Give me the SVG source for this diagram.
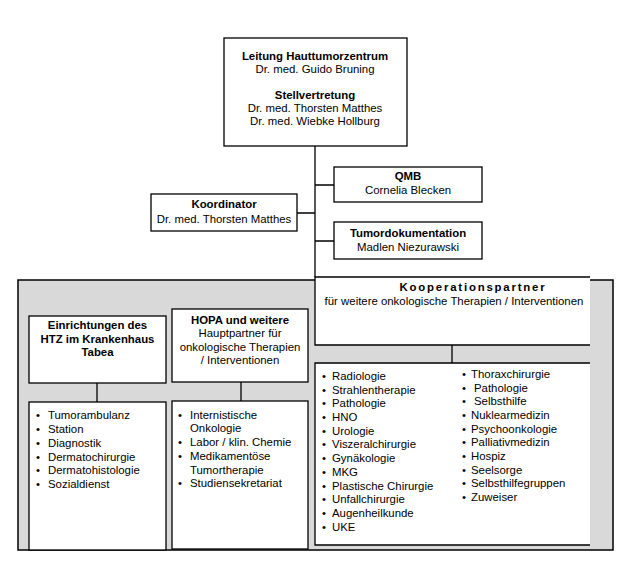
<svg xmlns="http://www.w3.org/2000/svg" width="628" height="571" viewBox="0 0 628 571">
<style>
text{font-family:"Liberation Sans",Arial,sans-serif;font-size:11.4px;fill:#000}
.b{font-weight:bold}
.c{text-anchor:middle}
.box{fill:#fff;stroke:#000;stroke-width:1.3}
.open{fill:none;stroke:#000;stroke-width:1.3}
.wf{fill:#fff;stroke:none}
.ln{stroke:#000;stroke-width:1.3;fill:none}
</style>
<rect width="628" height="571" fill="#fff"/>
<g id="background">
<rect x="18" y="280" width="595" height="270" fill="#d9d9d9" stroke="#000" stroke-width="1.5"/>
</g>
<g id="connectors">
<path class="ln" d="M315,146V277M315,185H334M297,213H315M315,241H334M452,345V363M97,383V402M241,382V401"/>
</g>
<g id="leitung">
<rect class="box" x="224" y="38" width="183" height="108"/>
<text class="b c" x="315" y="60">Leitung Hauttumorzentrum</text>
<text class="c" x="315" y="73">Dr. med. Guido Bruning</text>
<text class="b c" x="315" y="99">Stellvertretung</text>
<text class="c" x="315" y="112">Dr. med. Thorsten Matthes</text>
<text class="c" x="315" y="125">Dr. med. Wiebke Hollburg</text>
</g>
<g id="qmb">
<rect class="box" x="334" y="167" width="148" height="35"/>
<text class="b c" x="408" y="180">QMB</text>
<text class="c" x="408" y="194">Cornelia Blecken</text>
</g>
<g id="koordinator">
<rect class="box" x="151" y="194" width="146" height="37"/>
<text class="b c" x="224" y="208">Koordinator</text>
<text class="c" x="224" y="223">Dr. med. Thorsten Matthes</text>
</g>
<g id="tumordokumentation">
<rect class="box" x="334" y="222" width="148" height="37"/>
<text class="b c" x="408" y="237">Tumordokumentation</text>
<text class="c" x="408" y="251">Madlen Niezurawski</text>
</g>
<g id="kooperationspartner">
<rect class="wf" x="315" y="277" width="275" height="68"/>
<path class="open" d="M590,277H315V345H590"/>
<text class="b c" x="473" y="291" letter-spacing="1.8">Kooperationspartner</text>
<text class="c" x="454" y="305">für weitere onkologische Therapien / Interventionen</text>
</g>
<g id="einrichtungen">
<rect class="box" x="29" y="316" width="137" height="67"/>
<text class="b c" x="97.5" y="329">Einrichtungen des</text>
<text class="b c" x="97.5" y="343">HTZ im Krankenhaus</text>
<text class="b c" x="97.5" y="356">Tabea</text>
</g>
<g id="hopa">
<rect class="box" x="172" y="309" width="136" height="73"/>
<text class="b c" x="240" y="324">HOPA und weitere</text>
<text class="c" x="240" y="337">Hauptpartner für</text>
<text class="c" x="240" y="351">onkologische Therapien</text>
<text class="c" x="240" y="364">/ Interventionen</text>
</g>
<g id="einrichtungen-liste">
<rect class="box" x="29" y="402" width="137" height="148"/>
<text x="36" y="419">•</text><text x="48" y="419">Tumorambulanz</text>
<text x="36" y="433">•</text><text x="48" y="433">Station</text>
<text x="36" y="447">•</text><text x="48" y="447">Diagnostik</text>
<text x="36" y="461">•</text><text x="48" y="461">Dermatochirurgie</text>
<text x="36" y="474">•</text><text x="48" y="474">Dermatohistologie</text>
<text x="36" y="488">•</text><text x="48" y="488">Sozialdienst</text>
</g>
<g id="hopa-liste">
<rect class="box" x="172" y="401" width="136" height="148"/>
<text x="178" y="419">•</text><text x="190" y="419">Internistische</text>
<text x="190" y="432">Onkologie</text>
<text x="178" y="446">•</text><text x="190" y="446">Labor / klin. Chemie</text>
<text x="178" y="460">•</text><text x="190" y="460">Medikamentöse</text>
<text x="190" y="474">Tumortherapie</text>
<text x="178" y="487">•</text><text x="190" y="487">Studiensekretariat</text>
</g>
<g id="kooperationspartner-liste">
<rect class="wf" x="315" y="363" width="275" height="182"/>
<path class="open" d="M590,363H315V545H590"/>
<text x="322" y="380">•</text><text x="332" y="380">Radiologie</text>
<text x="322" y="394">•</text><text x="332" y="394">Strahlentherapie</text>
<text x="322" y="407">•</text><text x="332" y="407">Pathologie</text>
<text x="322" y="421">•</text><text x="332" y="421">HNO</text>
<text x="322" y="435">•</text><text x="332" y="435">Urologie</text>
<text x="322" y="448">•</text><text x="332" y="448">Viszeralchirurgie</text>
<text x="322" y="462">•</text><text x="332" y="462">Gynäkologie</text>
<text x="322" y="476">•</text><text x="332" y="476">MKG</text>
<text x="322" y="490">•</text><text x="332" y="490">Plastische Chirurgie</text>
<text x="322" y="503">•</text><text x="332" y="503">Unfallchirurgie</text>
<text x="322" y="517">•</text><text x="332" y="517">Augenheilkunde</text>
<text x="322" y="531">•</text><text x="332" y="531">UKE</text>
<text x="462" y="378">•</text><text x="471" y="378">Thoraxchirurgie</text>
<text x="462" y="392">•</text><text x="474" y="392">Pathologie</text>
<text x="462" y="405">•</text><text x="474" y="405">Selbsthilfe</text>
<text x="462" y="419">•</text><text x="471" y="419">Nuklearmedizin</text>
<text x="462" y="433">•</text><text x="471" y="433">Psychoonkologie</text>
<text x="462" y="446">•</text><text x="471" y="446">Palliativmedizin</text>
<text x="462" y="460">•</text><text x="471" y="460">Hospiz</text>
<text x="462" y="474">•</text><text x="471" y="474">Seelsorge</text>
<text x="462" y="487">•</text><text x="471" y="487">Selbsthilfegruppen</text>
<text x="462" y="501">•</text><text x="471" y="501">Zuweiser</text>
</g>
</svg>
